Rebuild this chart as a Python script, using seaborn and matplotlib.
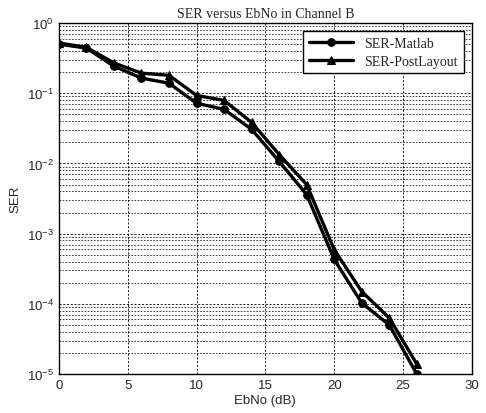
import matplotlib
matplotlib.use("Agg")
import matplotlib.pyplot as plt
import numpy as np
import pandas as pd
import seaborn as sns
from matplotlib.ticker import LogLocator, NullFormatter

ebno = [0, 2, 4, 6, 8, 10, 12, 14, 16, 18, 20, 22, 24, 26]
ser_matlab = [0.50, 0.44, 0.243, 0.164, 0.139, 0.072, 0.059, 0.0306,
              0.0107, 0.0036, 4.3e-4, 1.03e-4, 5.0e-5, 1.0e-5]
ser_postlayout = [0.52, 0.45, 0.27, 0.193, 0.18, 0.093, 0.079, 0.0385,
                  0.0134, 0.0050, 5.9e-4, 1.5e-4, 6.3e-5, 1.39e-5]
series_names = ["SER-Matlab", "SER-PostLayout"]

df = pd.concat([
    pd.DataFrame({"EbNo": ebno, "SER": ser_matlab, "series": series_names[0]}),
    pd.DataFrame({"EbNo": ebno, "SER": ser_postlayout, "series": series_names[1]}),
])

sns.set_style("white")
plt.rcParams["font.family"] = ["Liberation Sans", "DejaVu Sans"]

fig = plt.figure(figsize=(4.86, 4.14), dpi=100)
ax = fig.add_axes([0.121, 0.094, 0.850, 0.848])

sns.lineplot(
    data=df, x="EbNo", y="SER", hue="series", style="series",
    palette=["black", "black"], markers={"SER-Matlab": "o", "SER-PostLayout": "^"},
    dashes=False, linewidth=2.4, markersize=5.5, markeredgecolor="black",
    ax=ax, legend=True,
)

ax.set_yscale("log")
ax.set_xlim(0, 30)
ax.set_ylim(1e-5, 1)
ax.set_xticks([0, 5, 10, 15, 20, 25, 30])
ax.yaxis.set_major_locator(LogLocator(base=10, numticks=10))
ax.yaxis.set_minor_locator(LogLocator(base=10, subs=np.arange(2, 10), numticks=10))
ax.yaxis.set_minor_formatter(NullFormatter())
ax.grid(True, which="major", axis="both", color="black", linestyle=(0, (2.5, 2)), linewidth=0.6)
ax.grid(True, which="minor", axis="y", color="black", linestyle=(0, (2.5, 2)), linewidth=0.5)
ax.tick_params(axis="both", which="major", labelsize=9.5, direction="in", length=4)
ax.tick_params(axis="y", which="minor", direction="in", length=2)
for spine in ax.spines.values():
    spine.set_color("black")
    spine.set_linewidth(1.0)

ax.set_xlabel("EbNo (dB)", fontsize=9.5, labelpad=2)
ax.set_ylabel("SER", fontsize=9.5, labelpad=4)
ax.set_title("SER versus EbNo in Channel B", fontsize=10,
             fontfamily="Liberation Serif", pad=4)

leg = ax.legend(loc="upper right", frameon=True, fancybox=False,
                prop={"family": "Liberation Serif", "size": 10},
                edgecolor="black", framealpha=1, borderaxespad=0.6,
                handlelength=3.2, labelspacing=0.35)
leg.get_frame().set_linewidth(1.0)

fig.savefig("out.png", dpi=100)
plt.close(fig)
